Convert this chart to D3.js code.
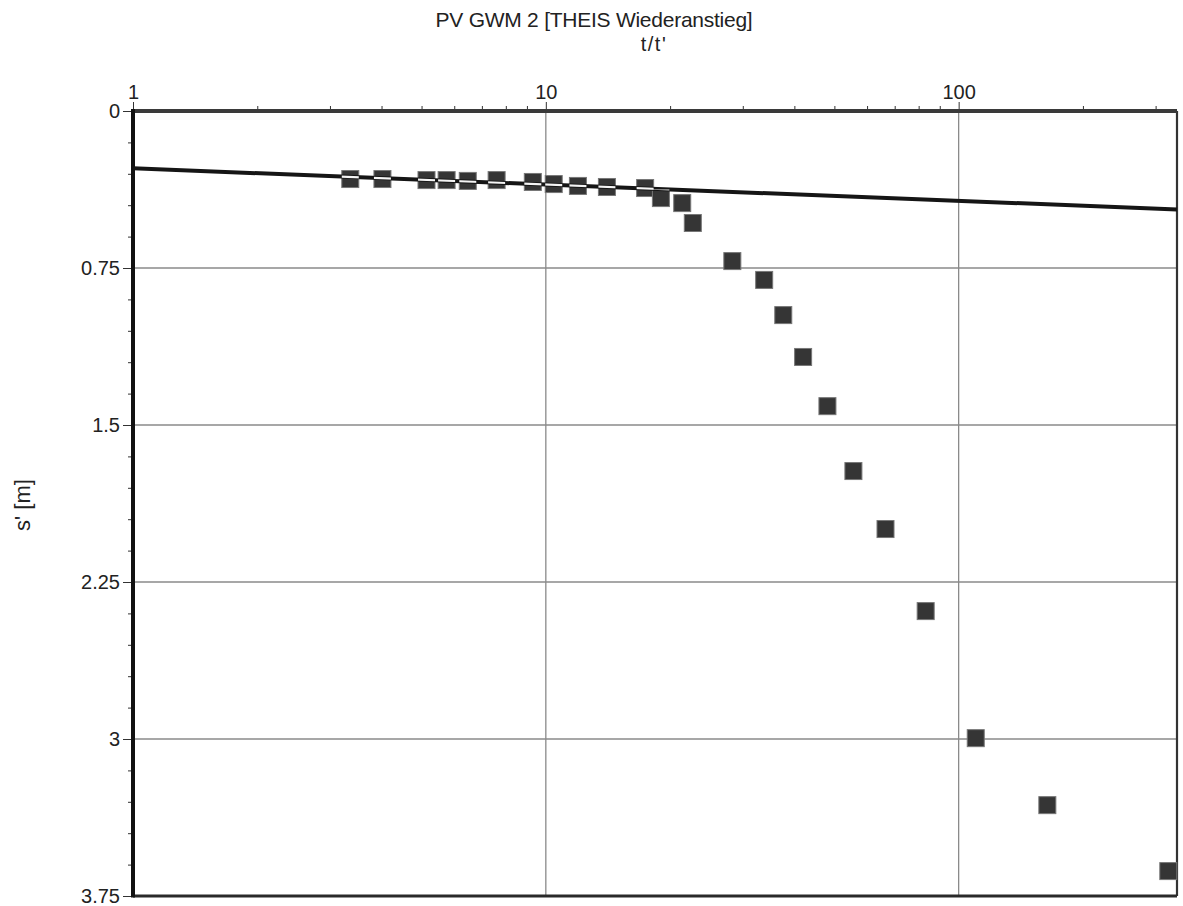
<!DOCTYPE html>
<html lang="de">
<head>
  <meta charset="UTF-8">
  <title>PV GWM 2 [THEIS Wiederanstieg]</title>
  <style>
    body {
      margin: 0;
      background: #fff;
      font-family: "Liberation Sans", Arial, sans-serif;
      overflow: hidden;
    }
    svg { display: block; }
    .tick text { font-size: 20px; fill: #222; font-family: "Liberation Sans", Arial, sans-serif; }
    .tick line { stroke: #333; stroke-width: 1; }
    .domain { display: none; }
    .grid line { stroke: #8a8a8a; stroke-width: 1.3; }
  </style>
</head>
<body>
  <svg width="1183" height="906"></svg>

  <script src="https://d3js.org/d3.v7.min.js"></script>
  <script>
    // measured points (t/t', s' in m)
    const ratio = [3.36, 4.02, 5.14, 5.75, 6.47, 7.60, 9.30, 10.45, 11.96, 14.06, 17.4, 19.0, 21.4, 22.7,
                   28.3, 33.8, 37.6, 42.0, 48.1, 55.6, 66.5, 83.2, 110, 164, 322];
    const drawdown = [0.325, 0.325, 0.330, 0.330, 0.334, 0.330, 0.339, 0.349, 0.358, 0.363, 0.368, 0.416, 0.440, 0.535,
                      0.717, 0.807, 0.975, 1.175, 1.41, 1.72, 1.997, 2.389, 2.996, 3.316, 3.631];

    // fitted Theis recovery line (end points)
    const fitRatio = [1, 338];
    const fitDrawdown = [0.274, 0.470];

    // axis ticks
    const xMajor = [1, 10, 100];
    const xMinor = [2, 3, 4, 5, 6, 7, 8, 9, 20, 30, 40, 50, 60, 70, 80, 90, 200, 300];
    const yMajor = [0, 0.75, 1.5, 2.25, 3, 3.75];
    const yMinor = [0.15, 0.3, 0.45, 0.6, 0.9, 1.05, 1.2, 1.35, 1.65, 1.8, 1.95, 2.1,
                    2.4, 2.55, 2.7, 2.85, 3.15, 3.3, 3.45, 3.6];

    const svg = d3.select("svg");
    const plotLeft = 133, plotRight = 1177, plotTop = 111, plotBottom = 896;

    const x = d3.scaleLog().domain([1, 338]).range([plotLeft, plotRight]);
    const y = d3.scaleLinear().domain([0, 3.75]).range([plotTop, plotBottom]);

    // titles
    svg.append("text")
      .attr("x", 594).attr("y", 27)
      .attr("text-anchor", "middle")
      .attr("font-size", 21).attr("letter-spacing", -0.25).attr("fill", "#222")
      .text("PV GWM 2 [THEIS Wiederanstieg]");

    svg.append("text")
      .attr("x", 654).attr("y", 51)
      .attr("text-anchor", "middle")
      .attr("font-size", 20).attr("letter-spacing", 1.5).attr("fill", "#222")
      .text("t/t'");

    svg.append("text")
      .attr("transform", "translate(30,505) rotate(-90)")
      .attr("text-anchor", "middle")
      .attr("font-size", 22).attr("fill", "#222")
      .text("s' [m]");

    // grid
    const grid = svg.append("g").attr("class", "grid");
    grid.selectAll("line.v")
      .data(xMajor.slice(1))
      .join("line")
      .attr("class", "v")
      .attr("x1", d => x(d)).attr("x2", d => x(d))
      .attr("y1", plotTop).attr("y2", plotBottom);
    grid.selectAll("line.h")
      .data(yMajor.slice(1, -1))
      .join("line")
      .attr("class", "h")
      .attr("x1", plotLeft).attr("x2", plotRight)
      .attr("y1", d => y(d)).attr("y2", d => y(d));

    // top axis (log)
    const fmtX = d => xMajor.includes(d) ? String(d) : "";
    const xAxis = svg.append("g")
      .attr("transform", `translate(0,${plotTop})`)
      .call(d3.axisTop(x).tickValues(xMajor.concat(xMinor)).tickFormat(fmtX).tickSize(5).tickPadding(6));
    xAxis.selectAll(".tick")
      .filter(d => xMajor.includes(d))
      .select("line").attr("y2", -9);
    xAxis.selectAll(".tick text").attr("dy", "-0.05em");

    // left axis
    const fmtY = d => String(+d.toFixed(2));
    svg.append("g")
      .attr("transform", `translate(${plotLeft},0)`)
      .call(d3.axisLeft(y).tickValues(yMajor).tickFormat(fmtY).tickSize(10).tickPadding(3));
    svg.append("g")
      .attr("transform", `translate(${plotLeft},0)`)
      .call(d3.axisLeft(y).tickValues(yMinor).tickFormat("").tickSize(5));

    // frame
    svg.append("line").attr("x1", plotRight).attr("x2", plotRight).attr("y1", plotTop).attr("y2", plotBottom)
      .attr("stroke", "#333").attr("stroke-width", 2.2);
    svg.append("line").attr("x1", plotLeft).attr("x2", plotRight).attr("y1", plotBottom).attr("y2", plotBottom)
      .attr("stroke", "#2a2a2a").attr("stroke-width", 3);
    svg.append("line").attr("x1", plotLeft).attr("x2", plotRight).attr("y1", plotTop).attr("y2", plotTop)
      .attr("stroke", "#3a3a3a").attr("stroke-width", 4);
    svg.append("line").attr("x1", plotLeft).attr("x2", plotLeft).attr("y1", plotTop - 2).attr("y2", plotBottom + 1.5)
      .attr("stroke", "#111").attr("stroke-width", 4);

    // data squares
    const pts = ratio.map((r, i) => ({ r: r, s: drawdown[i] }));
    const half = 8.5;

    svg.append("defs").append("clipPath").attr("id", "sq-clip")
      .selectAll("rect")
      .data(pts)
      .join("rect")
      .attr("x", d => x(d.r) - half).attr("y", d => y(d.s) - half)
      .attr("width", half * 2).attr("height", half * 2);

    svg.append("g")
      .selectAll("rect")
      .data(pts)
      .join("rect")
      .attr("x", d => x(d.r) - half).attr("y", d => y(d.s) - half)
      .attr("width", half * 2).attr("height", half * 2)
      .attr("fill", "#353535")
      .attr("stroke", "#777").attr("stroke-width", 1);

    // fit line
    const fit = fitRatio.map((r, i) => [r, fitDrawdown[i]]);
    const lineGen = d3.line().x(d => x(d[0])).y(d => y(d[1]));

    svg.append("path")
      .datum(fit)
      .attr("d", lineGen)
      .attr("fill", "none")
      .attr("stroke", "#151515")
      .attr("stroke-width", 4);

    // light core where the line crosses the squares
    svg.append("path")
      .datum(fit)
      .attr("d", lineGen)
      .attr("clip-path", "url(#sq-clip)")
      .attr("fill", "none")
      .attr("stroke", "#f4f4f4")
      .attr("stroke-width", 2.2);
  </script>
</body>
</html>
